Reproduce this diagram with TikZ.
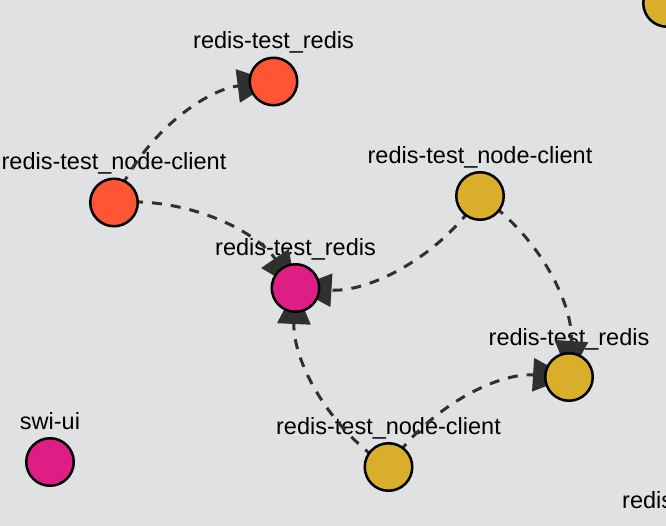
\documentclass[tikz,border=0pt]{standalone}
\usepackage{fontspec}
\setmainfont{Liberation Sans}
\usepackage{tikz}
\usetikzlibrary{arrows.meta}
\definecolor{bggray}{RGB}{224,225,227}
\definecolor{linkgray}{RGB}{48,48,48}
\definecolor{svcred}{RGB}{254,85,52}
\definecolor{svcpink}{RGB}{222,30,133}
\definecolor{svcyellow}{RGB}{216,174,43}
\pgfdeclarelayer{bg}
\pgfdeclarelayer{links}
\pgfsetlayers{bg,links,main}

\begin{document}
\begin{tikzpicture}[x=1pt,y=1pt,
  svc/.style={circle,draw=black,line width=2.5pt,minimum size=47.5pt,inner sep=0pt},
  lbl/.style={anchor=base,inner sep=0pt,font=\fontsize{23.5}{28}\selectfont},
  link/.style={draw=linkgray,line width=3pt,dash pattern=on 10pt off 9pt,
    bend left=30,looseness=0.91,-{Triangle[length=36pt,width=33pt]}}]
\clip (0,0) rectangle (666,-526);
\useasboundingbox (0,0) rectangle (666,-526);
% red group
\node[svc,fill=svcred] (rr) at (273.5,-81.5) {};
\node[svc,fill=svcred] (rnc) at (114,-202.5) {};
% pink
\node[svc,fill=svcpink] (pr) at (295.5,-288) {};
\node[svc,fill=svcpink] (swi) at (50,-462) {};
% yellow group
\node[svc,fill=svcyellow] (ync) at (480,-196) {};
\node[svc,fill=svcyellow] (yr) at (569,-377) {};
\node[svc,fill=svcyellow] (ync2) at (388.5,-467) {};
\node[svc,fill=svcyellow] (ytr) at (667,-3) {};
% labels
\begin{pgfonlayer}{bg}
\fill[bggray] (0,0) rectangle (666,-526);
\node[lbl] (lrr) at (273.5,-49) {redis-test\_redis};
\node[lbl] (lrnc) at (114,-170) {redis-test\_node-client};
\node[lbl] (lpr) at (295.5,-256) {redis-test\_redis};
\node[lbl] (lswi) at (50,-429) {swi-ui};
\node[lbl] (lync) at (480,-163.5) {redis-test\_node-client};
\node[lbl] (lyr) at (569,-345) {redis-test\_redis};
\node[lbl] (lync2) at (388.5,-434) {redis-test\_node-client};
\node[lbl,anchor=base west] (lbr) at (622,-508) {redis-test\_redis};
\end{pgfonlayer}
% links
\begin{pgfonlayer}{links}
\draw[link] (rnc.center) to (rr.center);
\draw[link] (rnc.center) to (pr.center);
\draw[link] (ync.center) to (pr.center);
\draw[link] (ync.center) to (yr.center);
\draw[link] (ync2.center) to (pr.center);
\draw[link] (ync2.center) to (yr.center);
\end{pgfonlayer}
\end{tikzpicture}
\end{document}
